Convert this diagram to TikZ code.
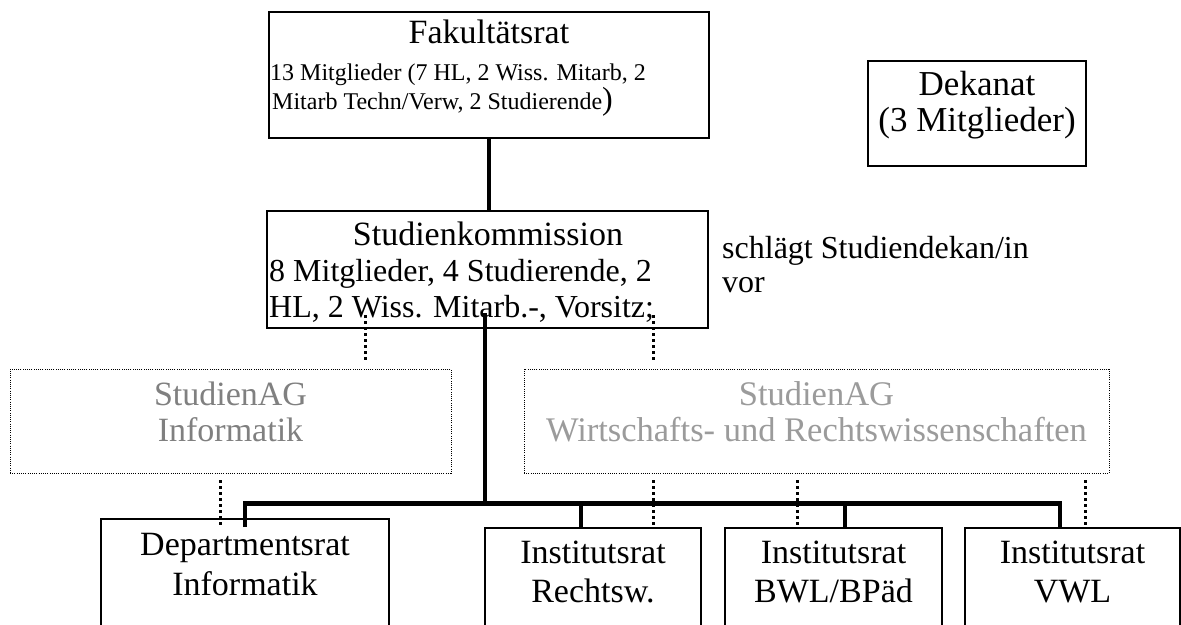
\documentclass[tikz,border=0pt]{standalone}
\usepackage{fontspec}
\setmainfont{Liberation Serif}
\begin{document}
\begin{tikzpicture}[x=1pt,y=-1pt,
  box/.style={draw, line width=1.3pt, inner sep=0pt},
  agbox/.style={draw, line width=1pt, dash pattern=on 1pt off 1.2pt, inner sep=0pt},
  bus/.style={line width=4.8pt, line join=miter},
  dots/.style={line width=3pt, dash pattern=on 3pt off 3pt},
  title/.style={font=\fontsize{34}{39}\selectfont, anchor=base, inner sep=0pt},
  body/.style={font=\fontsize{32}{37}\selectfont, anchor=base west, inner sep=0pt},
  small/.style={font=\fontsize{24}{28}\selectfont, anchor=base west, inner sep=0pt},
  dek/.style={font=\fontsize{35}{40}\selectfont, anchor=base, inner sep=0pt},
  agi/.style={title, text={rgb,255:red,128;green,128;blue,128}},
  agw/.style={title, font=\fontsize{34.5}{39}\selectfont, text={rgb,255:red,155;green,155;blue,155}}]

\useasboundingbox (0,0) rectangle (1181,624);
\clip (0,0) rectangle (1181,624);
\fill[white] (0,0) rectangle (1181,624);

% boxes
\node[box, minimum width=440pt, minimum height=126pt] (fr)  at (489,75) {};
\node[box, minimum width=441pt, minimum height=117pt] (sk)  at (487.5,269.5) {};
\node[box, minimum width=218pt, minimum height=105pt] (dk)  at (977,113.5) {};
\node[agbox, minimum width=441pt, minimum height=104pt] (ai) at (230.5,421) {};
\node[agbox, minimum width=585pt, minimum height=104pt] (aw) at (816.5,421) {};
\node[box, minimum width=288pt, minimum height=131pt] (dep) at (245,584.5) {};
\node[box, minimum width=216pt, minimum height=122pt] (rw)  at (593,589) {};
\node[box, minimum width=217pt, minimum height=122pt] (bwl) at (833.5,589) {};
\node[box, minimum width=215pt, minimum height=122pt] (vwl) at (1072.5,589) {};

% texts
\node[title] (frt) at (489,43) {Fakultätsrat};
\node[small] (fr1) at (270,80) {13 Mitglieder (7 HL, 2 Wiss. Mitarb, 2};
\node[small] (fr2) at (272,109) {Mitarb Techn/Verw, 2 Studierende{\fontsize{32}{37}\selectfont)}};

\node[dek] (dk1) at (977,95) {Dekanat};
\node[dek] (dk2) at (977,131) {(3 Mitglieder)};

\node[title] (skt) at (488,245) {Studienkommission};
\node[body] (sk1) at (269,281) {8 Mitglieder, 4 Studierende, 2};
\node[body] (sk2) at (269,317) {HL, 2 Wiss. Mitarb.-, Vorsitz;};

\node[body] (vs1) at (722,258) {schlägt Studiendekan/in};
\node[body] (vs2) at (722,292) {vor};

\node[agi] (ai1) at (230.5,405) {StudienAG};
\node[agi] (ai2) at (230.5,441) {Informatik};
\node[agw] (aw1) at (816.5,405) {StudienAG};
\node[agw] (aw2) at (816.5,441) {Wirtschafts- und Rechtswissenschaften};

\node[title] (dep1) at (245,555) {Departmentsrat};
\node[title] (dep2) at (245,595) {Informatik};
\node[title] (rw1) at (593,563) {Institutsrat};
\node[title] (rw2) at (593,602) {Rechtsw.};
\node[title] (bwl1) at (833.5,563) {Institutsrat};
\node[title] (bwl2) at (833.5,602) {BWL/BPäd};
\node[title] (vwl1) at (1072.5,563) {Institutsrat};
\node[title] (vwl2) at (1072.5,602) {VWL};

% connector end points
\coordinate (sTop) at (485,313);
\coordinate (bus)  at (485,503.5);
\coordinate (dDep) at (245,527);
\coordinate (dRw)  at (581,528);
\coordinate (dBwl) at (845,528);
\coordinate (dVwl) at (1060,528);

% solid hierarchy lines
\draw[bus] (fr.south) -- (fr.south |- sk.north);
\draw[bus] (sTop) -- (bus);
\draw[bus] (dDep) |- (bus) -| (dVwl);
\draw[bus] (bus -| dRw) -- (dRw);
\draw[bus] (bus -| dBwl) -- (dBwl);

% dotted links of the study groups
\coordinate (p1) at (365,315); \coordinate (q1) at (365,361);
\coordinate (p2) at (653,315); \coordinate (q2) at (653,361);
\coordinate (p3) at (220,480); \coordinate (q3) at (220,527);
\coordinate (p4) at (653,480); \coordinate (q4) at (653,528);
\coordinate (p5) at (797,480); \coordinate (q5) at (797,528);
\coordinate (p6) at (1085,480); \coordinate (q6) at (1085,528);
\foreach \i in {1,...,6} \draw[dots] (p\i) -- (q\i);
\end{tikzpicture}
\end{document}
